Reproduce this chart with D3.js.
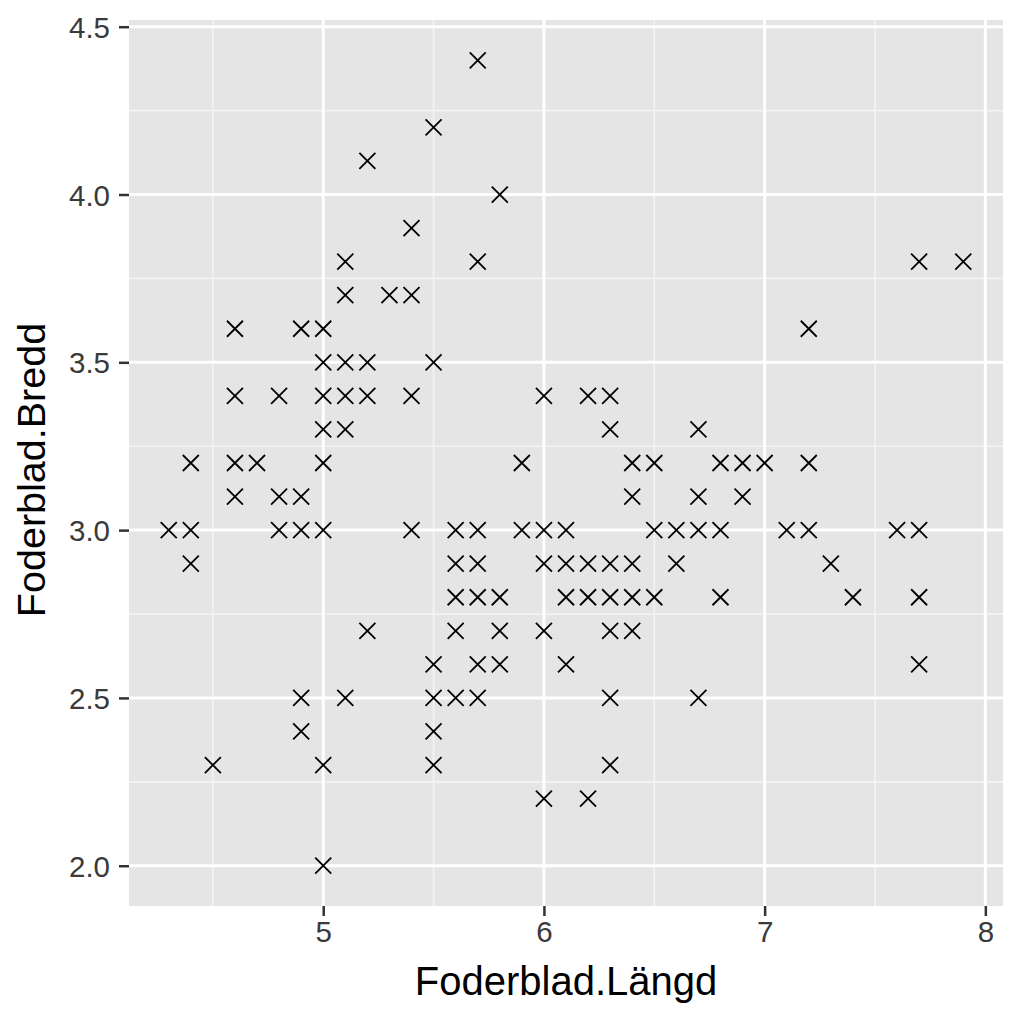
<!DOCTYPE html>
<html><head><meta charset="utf-8">
<script src="https://cdn.jsdelivr.net/npm/d3@7"></script>
<style>body{margin:0;background:#fff}svg{display:block}</style>
</head><body>
<svg id="c" width="1024" height="1024"></svg>
<script>
// Sepal length / width pairs (unique points visible in the chart)
const sepalLength = [
 5.7, 5.5, 5.2, 5.8, 5.4,
 5.1, 5.7, 7.7, 7.9,
 5.1, 5.3, 5.4,
 4.6, 4.9, 5.0, 7.2,
 5.0, 5.1, 5.2, 5.5,
 4.6, 4.8, 5.0, 5.1, 5.2, 5.4, 6.0, 6.2, 6.3,
 5.0, 5.1, 6.3, 6.7,
 4.4, 4.6, 4.7, 5.0, 5.9, 6.4, 6.5, 6.8, 6.9, 7.0, 7.2,
 4.6, 4.8, 4.9, 6.4, 6.7, 6.9,
 4.3, 4.4, 4.8, 4.9, 5.0, 5.4, 5.6, 5.7, 5.9, 6.0, 6.1, 6.5, 6.6, 6.7, 6.8, 7.1, 7.2, 7.6, 7.7,
 4.4, 5.6, 5.7, 6.0, 6.1, 6.2, 6.3, 6.4, 6.6, 7.3,
 5.6, 5.7, 5.8, 6.1, 6.2, 6.3, 6.4, 6.5, 6.8, 7.4, 7.7,
 5.2, 5.6, 5.8, 6.0, 6.3, 6.4,
 5.5, 5.7, 5.8, 6.1, 7.7,
 4.9, 5.1, 5.5, 5.6, 5.7, 6.3, 6.7,
 4.9, 5.5,
 4.5, 5.0, 5.5, 6.3,
 6.0, 6.2,
 5.0
];
const sepalWidth = [
 4.4, 4.2, 4.1, 4.0, 3.9,
 3.8, 3.8, 3.8, 3.8,
 3.7, 3.7, 3.7,
 3.6, 3.6, 3.6, 3.6,
 3.5, 3.5, 3.5, 3.5,
 3.4, 3.4, 3.4, 3.4, 3.4, 3.4, 3.4, 3.4, 3.4,
 3.3, 3.3, 3.3, 3.3,
 3.2, 3.2, 3.2, 3.2, 3.2, 3.2, 3.2, 3.2, 3.2, 3.2, 3.2,
 3.1, 3.1, 3.1, 3.1, 3.1, 3.1,
 3.0, 3.0, 3.0, 3.0, 3.0, 3.0, 3.0, 3.0, 3.0, 3.0, 3.0, 3.0, 3.0, 3.0, 3.0, 3.0, 3.0, 3.0, 3.0,
 2.9, 2.9, 2.9, 2.9, 2.9, 2.9, 2.9, 2.9, 2.9, 2.9,
 2.8, 2.8, 2.8, 2.8, 2.8, 2.8, 2.8, 2.8, 2.8, 2.8, 2.8,
 2.7, 2.7, 2.7, 2.7, 2.7, 2.7,
 2.6, 2.6, 2.6, 2.6, 2.6,
 2.5, 2.5, 2.5, 2.5, 2.5, 2.5, 2.5,
 2.4, 2.4,
 2.3, 2.3, 2.3, 2.3,
 2.2, 2.2,
 2.0
];
const xTicks = [5, 6, 7, 8];
const xMinor = [4.5, 5.5, 6.5, 7.5];
const yTicks = [2.0, 2.5, 3.0, 3.5, 4.0, 4.5];
const yMinor = [2.25, 2.75, 3.25, 3.75, 4.25];
const xTitle = "Foderblad.Längd";
const yTitle = "Foderblad.Bredd";

const svg = d3.select("#c");
const L = 129, R = 1003, T = 20, B = 906;
const xMin = d3.min(sepalLength), xMax = d3.max(sepalLength);
const yMin = d3.min(sepalWidth), yMax = d3.max(sepalWidth);
const xPad = (xMax - xMin) * 0.05, yPad = (yMax - yMin) * 0.05;
const x = d3.scaleLinear().domain([xMin - xPad, xMax + xPad]).range([L, R]);
const y = d3.scaleLinear().domain([yMin - yPad, yMax + yPad]).range([B, T]);
const font = "'Liberation Sans', Arial, Helvetica, sans-serif";

svg.append("rect").attr("x", L).attr("y", T).attr("width", R - L).attr("height", B - T).attr("fill", "#e5e5e5");

const g = svg.append("g");
g.selectAll(".xmin").data(xMinor).join("line")
  .attr("x1", d => x(d)).attr("x2", d => x(d)).attr("y1", T).attr("y2", B)
  .attr("stroke", "#f4f4f4").attr("stroke-width", 1.6);
g.selectAll(".ymin").data(yMinor).join("line")
  .attr("y1", d => y(d)).attr("y2", d => y(d)).attr("x1", L).attr("x2", R)
  .attr("stroke", "#f4f4f4").attr("stroke-width", 1.6);
g.selectAll(".xmaj").data(xTicks).join("line")
  .attr("x1", d => x(d)).attr("x2", d => x(d)).attr("y1", T).attr("y2", B)
  .attr("stroke", "#fff").attr("stroke-width", 3);
g.selectAll(".ymaj").data(yTicks).join("line")
  .attr("y1", d => y(d)).attr("y2", d => y(d)).attr("x1", L).attr("x2", R)
  .attr("stroke", "#fff").attr("stroke-width", 3);

// axes
const xAxis = svg.append("g").attr("transform", `translate(0,${B})`)
  .call(d3.axisBottom(x).tickValues(xTicks).tickFormat(d3.format("d")).tickSize(10).tickPadding(5));
const yAxis = svg.append("g").attr("transform", `translate(${L},0)`)
  .call(d3.axisLeft(y).tickValues(yTicks).tickFormat(d3.format(".1f")).tickSize(10).tickPadding(9));
[xAxis, yAxis].forEach(a => {
  a.select(".domain").remove();
  a.selectAll(".tick line").attr("stroke", "#333").attr("stroke-width", 2.5);
  a.selectAll(".tick text").attr("fill", "#3a3a3a").style("font-family", font).style("font-size", "29.5px");
});
yAxis.selectAll(".tick text").attr("dy", "0.36em");

// points (shape: x)
const s = 8;
const pts = svg.append("g");
sepalLength.forEach((v, i) => {
  const cx = x(v), cy = y(sepalWidth[i]);
  pts.append("path")
    .attr("d", `M${cx - s},${cy - s}L${cx + s},${cy + s}M${cx - s},${cy + s}L${cx + s},${cy - s}`)
    .attr("stroke", "#000").attr("stroke-width", 1.8).attr("fill", "none");
});

svg.append("text").attr("x", (L + R) / 2).attr("y", 995).attr("text-anchor", "middle")
  .style("font-family", font).style("font-size", "40px").attr("fill", "#000").text(xTitle);
svg.append("text").attr("transform", `translate(45,470) rotate(-90)`).attr("text-anchor", "middle")
  .style("font-family", font).style("font-size", "39.5px").attr("fill", "#000").text(yTitle);
</script>
</body></html>
